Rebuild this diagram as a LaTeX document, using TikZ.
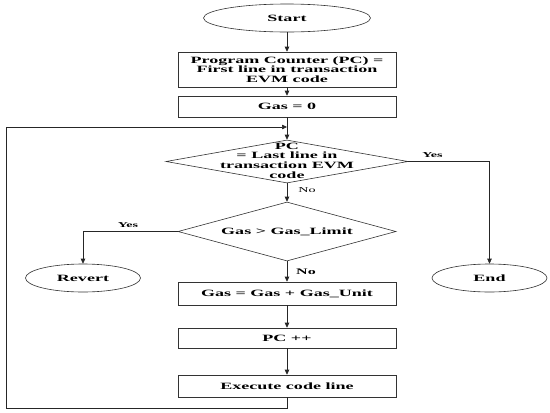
\documentclass[tikz,border=0pt]{standalone}
\usepackage{fontspec}
\setmainfont{Liberation Serif}[FakeStretch=1.88]
\usetikzlibrary{shapes.geometric,arrows.meta}
\begin{document}
\begin{tikzpicture}[x=1pt,y=-1pt,
  every node/.style={font=\fontsize{9.6}{9.6}\selectfont\bfseries, align=center},
  procbox/.style={draw=black!80, line width=0.6pt, rectangle, minimum width=218pt, inner sep=0pt},
  termbox/.style={draw=black!80, line width=0.6pt, ellipse, inner sep=0pt},
  decbox/.style={draw=black!80, line width=0.6pt, diamond, inner sep=0pt, aspect=1},
  conn/.style={draw=black!85, line width=0.6pt},
  arr/.style={conn, -{Triangle[length=5pt,width=4.5pt]}},
  lbl/.style={font=\fontsize{7.5}{9}\selectfont\bfseries, inner sep=1pt}
]
\useasboundingbox (0,0) rectangle (550,413);
\node[termbox, minimum width=167pt, minimum height=28pt] (start) at (287,18) {Start};
\node[procbox, minimum height=35pt] (b1) at (287,69.5) {Program Counter (PC) =\\First line in transaction\\EVM code};
\node[procbox, minimum height=21pt] (b2) at (287,106.5) {Gas = 0};
\node[decbox, minimum width=242pt, minimum height=43pt] (d1) at (287,161.5) {};
\node (d1t) at (287,160.5) {PC\\= Last line in\\transaction EVM\\code};
\node[decbox, minimum width=218pt, minimum height=59pt] (d2) at (287,231.5) {};
\node (d2t) at (287,231.5) {Gas > Gas\_Limit};
\node[termbox, minimum width=115pt, minimum height=28pt] (revert) at (83,278) {Revert};
\node[termbox, minimum width=115pt, minimum height=28pt] (end) at (489.5,278) {End};
\node[procbox, minimum height=23pt] (b3) at (287,293.5) {Gas = Gas + Gas\_Unit};
\node[procbox, minimum height=20pt] (b4) at (287,338) {PC ++};
\node[procbox, minimum height=22pt] (b5) at (287,386) {Execute code line};
\coordinate (join) at (287,127);
\coordinate (loopcorner) at (6,408);
\draw[arr] (start) -- (b1);
\draw[arr] (b1) -- (b2);
\draw[arr] (b2) -- (d1.north);
\draw[arr] (d1.south) -- (d2.north);
\draw[arr] (d2.south) -- (b3);
\draw[arr] (b3) -- (b4);
\draw[arr] (b4) -- (b5);
\draw[arr] (b5.south) |- (loopcorner) |- (join);
\draw[arr] (d1.east) -| (end.north);
\draw[arr] (d2.west) -| (revert.north);
\node[lbl] (yes1) at (432.5,155) {Yes};
\node[lbl] (yes2) at (128,225) {Yes};
\node[lbl, font=\fontsize{7.5}{9}\selectfont] (no1) at (307,190) {No};
\node[lbl, font=\fontsize{8.5}{10}\selectfont\bfseries] (no2) at (306,272) {No};
\end{tikzpicture}
\end{document}
